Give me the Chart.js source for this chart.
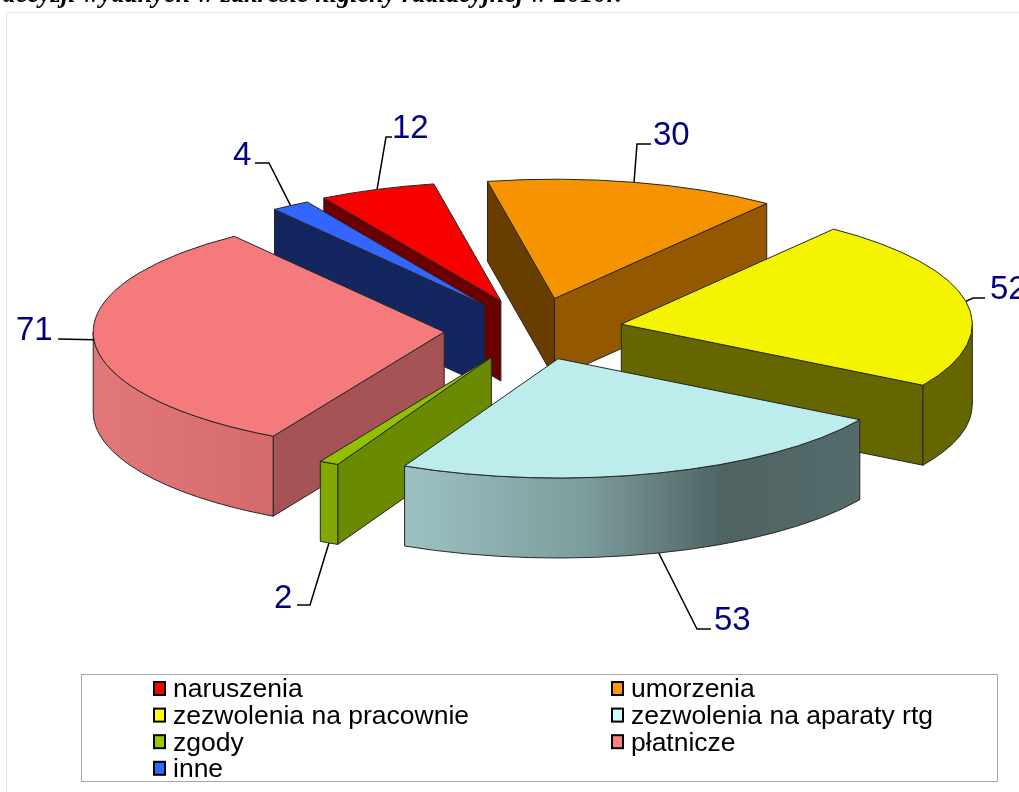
<!DOCTYPE html>
<html>
<head>
<meta charset="utf-8">
<script src="https://cdn.jsdelivr.net/npm/chart.js@4"></script>
<style>
  html, body { margin: 0; background: #ffffff; overflow: hidden; }
  canvas { display: block; }
</style>
</head>
<body>
<canvas id="myPlot1" width="1019" height="792"></canvas>
<script>
const categories = ['naruszenia', 'umorzenia', 'zezwolenia na pracownie', 'zezwolenia na aparaty rtg', 'zgody', 'płatnicze', 'inne']
const values = [12, 30, 52, 53, 2, 71, 4]
const topColors = ['#f70000', '#f59300', '#f4f400', '#bcecec', '#90c000', '#f47a7c', '#3366ff']
const legendColors = ['#ff0000', '#ff9900', '#ffff00', '#ccffff', '#99cc00', '#ff8080', '#3366ff']
const startWallColors = ['#6b0000', '#683e00', '#6b6b00', '#4f6363', '#6a8a00', '#a55355', '#14265f']
const endWallColors = ['#6b0000', '#945900', '#666600', '#4f6363', '#6a8a00', '#a55355', '#14265f']
const outerWallStops = [
  [[0, '#6b0000']],
  [[0, '#945900']],
  [[0, '#666600']],
  [[0, '#9dc1c1'], [0.4, '#7d9c9c'], [0.7, '#4f6363'], [1, '#556a6a']],
  [[0, '#80a800']],
  [[0, '#e27779'], [0.5, '#dc7173'], [1, '#d36a6c']],
  [[0, '#14265f']]
]
const explode = [91, 95, 90, 88, 90, 89, 88]
const leaders = [
  {points: [[386, 137], [392, 137]], x: 392, y: 138},
  {points: [[637, 144], [651, 144]], x: 653, y: 145},
  {points: [[973, 298], [985, 298]], x: 990, y: 299},
  {points: [[697, 629], [711, 629]], x: 714, y: 630},
  {points: [[310, 605], [297, 605]], x: 274, y: 608},
  {points: [[58, 339]], x: 16, y: 340},
  {points: [[269, 163], [255, 163]], x: 233, y: 165}
]

const TILT = 0.34
const DEPTH = 80

function explodedCenter(arc, i) {
  const mid = (arc.startAngle + arc.endAngle) / 2
  return {
    x: arc.x + Math.cos(mid) * explode[i],
    y: arc.y + Math.sin(mid) * explode[i] * TILT
  }
}

function edgePoint(c, r, angle) {
  return {x: c.x + Math.cos(angle) * r, y: c.y + Math.sin(angle) * r * TILT}
}

function drawQuad(ctx, c, r, angle, color) {
  const p = edgePoint(c, r, angle)
  ctx.beginPath()
  ctx.moveTo(c.x, c.y)
  ctx.lineTo(p.x, p.y)
  ctx.lineTo(p.x, p.y + DEPTH)
  ctx.lineTo(c.x, c.y + DEPTH)
  ctx.closePath()
  ctx.fillStyle = color
  ctx.fill()
  ctx.stroke()
}

function drawWalls(ctx, arc, i) {
  const c = explodedCenter(arc, i)
  const r = arc.outerRadius
  const a0 = arc.startAngle
  const a1 = arc.endAngle

  // flat sides
  if (Math.cos(a0) < 0) {
    drawQuad(ctx, c, r, a0, startWallColors[i])
  }
  if (Math.cos(a1) > 0) {
    drawQuad(ctx, c, r, a1, endWallColors[i])
  }

  // outer curved part, only what faces the viewer
  for (const k of [-1, 0, 1]) {
    const from = Math.max(a0, k * 2 * Math.PI)
    const to = Math.min(a1, k * 2 * Math.PI + Math.PI)
    if (to <= from) continue
    const x0 = Math.min(edgePoint(c, r, from).x, edgePoint(c, r, to).x)
    const x1 = Math.max(edgePoint(c, r, from).x, edgePoint(c, r, to).x)
    const grad = ctx.createLinearGradient(x0, 0, x1, 0)
    outerWallStops[i].forEach(s => grad.addColorStop(s[0], s[1]))
    ctx.beginPath()
    ctx.ellipse(c.x, c.y, r, r * TILT, 0, from, to)
    ctx.ellipse(c.x, c.y + DEPTH, r, r * TILT, 0, to, from, true)
    ctx.closePath()
    ctx.fillStyle = grad
    ctx.fill()
    ctx.stroke()
  }
}

const pie3d = {
  id: 'pie3d',
  beforeDatasetDraw: (chart, args) => {
    const {ctx} = chart
    const arcs = chart.getDatasetMeta(args.index).data
    const order = arcs.map((a, i) => i).sort((p, q) => {
      const mp = (arcs[p].startAngle + arcs[p].endAngle) / 2
      const mq = (arcs[q].startAngle + arcs[q].endAngle) / 2
      return Math.sin(mp) - Math.sin(mq)
    })

    ctx.save()
    ctx.strokeStyle = '#262626'
    ctx.lineWidth = 1
    ctx.lineJoin = 'round'
    order.forEach(i => drawWalls(ctx, arcs[i], i))

    order.forEach(i => {
      const arc = arcs[i]
      const c = explodedCenter(arc, i)
      ctx.save()
      ctx.translate(c.x, c.y)
      ctx.scale(1, TILT)
      ctx.translate(-arc.x, -arc.y)
      arc.draw(ctx)
      ctx.restore()

      ctx.beginPath()
      ctx.moveTo(c.x, c.y)
      ctx.ellipse(c.x, c.y, arc.outerRadius, arc.outerRadius * TILT, 0, arc.startAngle, arc.endAngle)
      ctx.closePath()
      ctx.stroke()
    })
    ctx.restore()
    return false
  },
  afterDraw: (chart) => {
    const {ctx} = chart
    const arcs = chart.getDatasetMeta(0).data
    ctx.save()

    // frame and cut off heading of the page
    ctx.strokeStyle = '#e4e4e4'
    ctx.lineWidth = 1
    ctx.beginPath()
    ctx.moveTo(6.5, 792)
    ctx.lineTo(6.5, 12.5)
    ctx.lineTo(1019, 12.5)
    ctx.stroke()

    ctx.fillStyle = '#000000'
    ctx.font = 'italic bold 26.3px "Liberation Serif"'
    ctx.textAlign = 'right'
    ctx.textBaseline = 'alphabetic'
    ctx.fillText('decyzji wydanych w zakresie higieny radiacyjnej w 2010r.', 622, 2)

    // leader lines and value labels
    ctx.textAlign = 'left'
    arcs.forEach((arc, i) => {
      const mid = (arc.startAngle + arc.endAngle) / 2
      const p = edgePoint(explodedCenter(arc, i), arc.outerRadius, mid)
      const front = Math.sin(mid) > 0.5 ? DEPTH : 0
      ctx.strokeStyle = '#000000'
      ctx.lineWidth = 1.5
      ctx.beginPath()
      ctx.moveTo(p.x, p.y + front)
      leaders[i].points.forEach(q => ctx.lineTo(q[0], q[1]))
      ctx.stroke()
      ctx.fillStyle = '#000080'
      ctx.font = '33px "Liberation Sans"'
      ctx.fillText(String(values[i]), leaders[i].x, leaders[i].y)
    })

    // legend box, two columns
    ctx.strokeStyle = '#a6a6a6'
    ctx.lineWidth = 1
    ctx.strokeRect(81.5, 674.5, 916, 107)
    ctx.font = '26.5px "Liberation Sans"'
    ctx.textBaseline = 'middle'
    categories.forEach((name, i) => {
      const col = i % 2
      const row = Math.floor(i / 2)
      const x = col === 0 ? 153 : 611
      const y = 688 + row * 26.6
      ctx.fillStyle = legendColors[i]
      ctx.fillRect(x + 1, y - 6, 11, 13)
      ctx.strokeStyle = '#000000'
      ctx.lineWidth = 2
      ctx.strokeRect(x + 1, y - 6, 11, 13)
      ctx.fillStyle = '#000000'
      ctx.fillText(name, x + 20, y + 2)
    })
    ctx.restore()
  }
}

new Chart(
  'myPlot1',
  {
    type: 'pie',
    data: {
      labels: categories,
      datasets: [{
        data: values,
        backgroundColor: topColors,
        borderWidth: 0,
        hoverOffset: 0
      }]
    },
    options: {
      responsive: false,
      animation: false,
      rotation: -30.3,
      radius: 351,
      layout: {padding: {left: 47, bottom: 132}},
      plugins: {
        legend: {display: false},
        title: {display: false},
        tooltip: {enabled: false}
      }
    },
    plugins: [pie3d]
  }
)
</script>
</body>
</html>
